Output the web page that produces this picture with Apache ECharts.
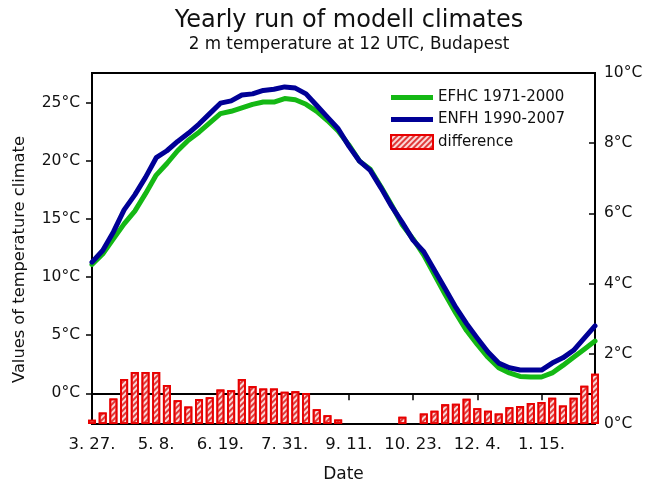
<!DOCTYPE html>
<html><head><meta charset="utf-8">
<script src="https://cdn.jsdelivr.net/npm/echarts@6/dist/echarts.min.js"></script>
<style>html,body{margin:0;padding:0;background:#fff}#c{width:646px;height:488px}</style>
</head><body><div id="c"></div>
<script>
// Weekly values, week 0 = 3.27.
const efhc = [11.1, 12.0, 13.3, 14.6, 15.7, 17.2, 18.8, 19.8, 20.9, 21.8,
  22.5, 23.3, 24.1, 24.3, 24.6, 24.9, 25.1, 25.1, 25.4, 25.3,
  24.9, 24.3, 23.5, 22.6, 21.4, 20.0, 19.3, 17.8, 16.2, 14.5,
  13.3, 11.9, 10.2, 8.5, 6.9, 5.4, 4.2, 3.1, 2.2, 1.75,
  1.45, 1.4, 1.4, 1.75, 2.4, 3.1, 3.8, 4.5];
const enfh = [11.3, 12.3, 13.9, 15.8, 17.1, 18.6, 20.3, 20.9, 21.7, 22.4,
  23.2, 24.1, 25.0, 25.2, 25.7, 25.8, 26.1, 26.2, 26.4, 26.3,
  25.8, 24.8, 23.8, 22.8, 21.3, 20.0, 19.2, 17.7, 16.1, 14.7,
  13.2, 12.2, 10.6, 9.0, 7.4, 6.0, 4.75, 3.55, 2.6, 2.2,
  2.0, 2.0, 2.0, 2.6, 3.05, 3.7, 4.75, 5.8];
const difference = [0.12, 0.33, 0.73, 1.28, 1.48, 1.48, 1.48, 1.11, 0.68, 0.5,
  0.71, 0.76, 0.98, 0.96, 1.28, 1.08, 1.01, 1.01, 0.92, 0.93,
  0.88, 0.42, 0.25, 0.13, null, null, null, null, null, 0.21,
  null, 0.3, 0.38, 0.56, 0.58, 0.72, 0.45, 0.38, 0.3, 0.48,
  0.51, 0.6, 0.63, 0.75, 0.53, 0.75, 1.09, 1.43];
const tickWeeks = [0, 6, 12, 18, 24, 30, 36, 42];
const tickLabels = ['3. 27.', '5. 8.', '6. 19.', '7. 31.', '9. 11.', '10. 23.', '12. 4.', '1. 15.'];
const leftTicks = [0, 5, 10, 15, 20, 25];
const rightTicks = [0, 2, 4, 6, 8, 10];

const FF = "'DejaVu Sans', sans-serif";
const GREEN = '#14b814';
const BLUE = '#000096';
const linePath = 'path://M0,0L42,0L42,5L0,5Z';

const chart = echarts.init(document.getElementById('c'), null, {renderer: 'canvas'});
chart.setOption({
  animation: false,
  backgroundColor: '#fff',
  title: {
    text: 'Yearly run of modell climates',
    subtext: '2 m temperature at 12 UTC, Budapest',
    left: 344, top: 4, textAlign: 'center', itemGap: 3,
    textStyle: {fontFamily: FF, fontSize: 24, fontWeight: 'normal', color: '#111'},
    subtextStyle: {fontFamily: FF, fontSize: 16.8, color: '#111'}
  },
  grid: {left: 92, right: 51, top: 73, bottom: 60, show: true, borderColor: '#000', borderWidth: 2, backgroundColor: 'transparent'},
  legend: {
    orient: 'vertical', left: 390, top: 90, padding: 0,
    itemWidth: 42, itemHeight: 14, itemGap: 7,
    textStyle: {fontFamily: FF, fontSize: 15, color: '#111'},
    data: [
      {name: 'EFHC 1971-2000', icon: linePath},
      {name: 'ENFH 1990-2007', icon: linePath},
      {name: 'difference', icon: 'rect'}
    ]
  },
  xAxis: {
    type: 'value', min: 0, max: 47,
    name: 'Date', nameLocation: 'middle', nameGap: 42,
    nameTextStyle: {fontFamily: FF, fontSize: 17, color: '#111'},
    axisLine: {show: true, lineStyle: {color: '#000', width: 2}},
    axisTick: {show: true, inside: false, length: 7, customValues: tickWeeks, lineStyle: {color: '#000', width: 1.5}},
    axisLabel: {customValues: tickWeeks, formatter: v => tickLabels[tickWeeks.indexOf(v)] || '', fontFamily: FF, fontSize: 16.5, color: '#111', margin: 12},
    splitLine: {show: false}
  },
  yAxis: [{
    type: 'value', min: -2.65, max: 27.6, position: 'left',
    name: 'Values of temperature climate', nameLocation: 'middle', nameGap: 64, nameRotate: 90,
    nameTextStyle: {fontFamily: FF, fontSize: 16.3, color: '#111', padding: [0, 22, 0, 0]},
    axisLine: {show: true, lineStyle: {color: '#000', width: 2}},
    axisTick: {show: true, inside: false, length: 6, customValues: leftTicks, lineStyle: {color: '#000', width: 1.5}},
    axisLabel: {customValues: leftTicks, formatter: v => v + '°C', fontFamily: FF, fontSize: 15.5, color: '#111', margin: 12},
    splitLine: {show: false}
  }, {
    type: 'value', min: 0, max: 10, position: 'right',
    axisLine: {show: true, lineStyle: {color: '#000', width: 2}},
    axisTick: {show: true, inside: true, length: 6, customValues: rightTicks, lineStyle: {color: '#000', width: 1.5}},
    axisLabel: {customValues: rightTicks, formatter: v => v + '°C', fontFamily: FF, fontSize: 15.5, color: '#111', margin: 9},
    splitLine: {show: false}
  }],
  series: [{
    type: 'bar', name: 'difference', yAxisIndex: 1, barWidth: 8, z: 1,
    data: difference.map((v, i) => [i, v]),
    itemStyle: {
      color: '#fbd9d9', borderColor: '#e80000', borderWidth: 1.8,
      decal: {symbol: 'rect', symbolSize: 1, dashArrayX: [1, 0], dashArrayY: [1.2, 2], rotation: -Math.PI / 4, color: '#e03a3a'}
    }
  }, {
    type: 'line', name: 'EFHC 1971-2000', yAxisIndex: 0, symbol: 'none', z: 3,
    data: efhc.map((v, i) => [i, v]),
    itemStyle: {color: GREEN},
    lineStyle: {color: GREEN, width: 5, cap: 'round', join: 'round'}
  }, {
    type: 'line', name: 'ENFH 1990-2007', yAxisIndex: 0, symbol: 'none', z: 4,
    data: enfh.map((v, i) => [i, v]),
    itemStyle: {color: BLUE},
    lineStyle: {color: BLUE, width: 5, cap: 'round', join: 'round'}
  }]
});
</script></body></html>
